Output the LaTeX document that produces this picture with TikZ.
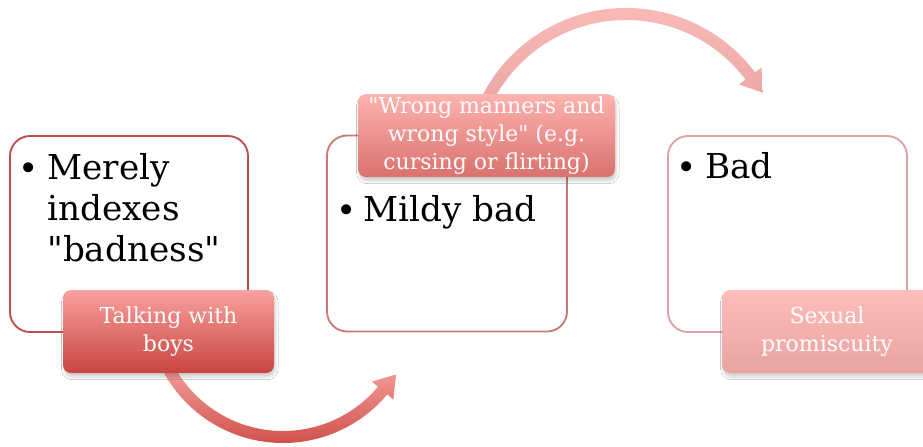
\documentclass[tikz,border=0pt]{standalone}
\usepackage{fontspec}
\setmainfont{DejaVu Serif}[Ligatures=TeXOff]
\usetikzlibrary{calc,shadows.blur}
\definecolor{bstrokeA}{HTML}{BB4F4C}
\definecolor{bstrokeB}{HTML}{C97A77}
\definecolor{bstrokeC}{HTML}{DDA3A2}
\definecolor{labAtop}{HTML}{F9A19D}
\definecolor{labAbot}{HTML}{C84540}
\definecolor{labBtop}{HTML}{FDB3AF}
\definecolor{labBbot}{HTML}{DA716D}
\definecolor{labCtop}{HTML}{FDBDBA}
\definecolor{labCbot}{HTML}{E9A3A1}
\definecolor{arrAtop}{HTML}{F8A6A2}
\definecolor{arrAbot}{HTML}{CF4E49}
\definecolor{arrBtop}{HTML}{FCBEBB}
\definecolor{arrBbot}{HTML}{EBA6A4}
\tikzset{
  bigbox/.style={draw, fill=white, line width=1.4pt, rounded corners=15pt,
    minimum height=147pt, inner sep=0pt},
  labbox/.style={rounded corners=6pt, minimum height=62.25pt, inner sep=0pt,
    text=white, align=center, font=\fontsize{16.5pt}{21pt}\selectfont,
    blur shadow={shadow blur steps=8, shadow xshift=1pt, shadow yshift=-3pt, shadow opacity=18, shadow blur radius=2pt}},
  boxtext/.style={anchor=north west, inner sep=0pt, align=left,
    font=\fontsize{25.7pt}{30.75pt}\selectfont},
  bul/.style={anchor=base, inner sep=0pt, font=\fontsize{25.7pt}{30.75pt}\selectfont}
}
\begin{document}
\begin{tikzpicture}[x=0.75pt,y=0.75pt]
\useasboundingbox (0,0) rectangle (923,-446);
\fill[white] (0,0) rectangle (923,-446);

% boxes
\node[bigbox, draw=bstrokeA, minimum width=178.5pt] (box1) at (129,-234) {};
\node[bigbox, draw=bstrokeB, minimum width=180pt] (box2) at (447,-233.5) {};
\node[bigbox, draw=bstrokeC, minimum width=179.25pt] (box3) at (787.5,-234) {};

% box texts
\node[bul] (b1) at (29,-180) {•};
\node[boxtext] (t1) at (47,-153) {Merely\\indexes\\"badness"};
\node[bul] (b2) at (347,-222) {•};
\node[boxtext] (t2) at (363,-195) {Mildy bad};
\node[bul] (b3) at (687,-179) {•};
\node[boxtext] (t3) at (705,-152) {Bad};

% arrow centres
\coordinate (c1) at (283,-307);
\coordinate (c2) at (626,-169.6);

% bottom arrow
\shade[top color=arrAtop, bottom color=arrAbot]
  ($(c1)+(205:136)$) arc[start angle=205, end angle=320, radius=102pt]
  -- ($(c1)+(320:144)$) -- ($(c1)+(320:130)+(50:21)$) -- ($(c1)+(320:116)$)
  -- ($(c1)+(320:124)$) arc[start angle=320, end angle=205, radius=93pt] -- cycle;

% top arrow
\shade[top color=arrBtop, bottom color=arrBbot]
  ($(c2)+(155:161.6)$) arc[start angle=155, end angle=37, radius=121.2pt]
  -- ($(c2)+(37:169.6)$) -- ($(c2)+(37:155.6)+(-53:21)$) -- ($(c2)+(37:141.6)$)
  -- ($(c2)+(37:149.6)$) arc[start angle=37, end angle=155, radius=112.2pt] -- cycle;

% labels
\node[labbox, top color=labAtop, bottom color=labAbot, minimum width=158.25pt] (lab1) at (168.5,-331.5) {Talking with\\boys};
\node[labbox, top color=labBtop, bottom color=labBbot, minimum width=192.75pt] (lab2) at (486.5,-135.5) {"Wrong manners and\\wrong style" (e.g.\\cursing or flirting)};
\node[labbox, top color=labCtop, bottom color=labCbot, minimum width=157.5pt] (lab3) at (827,-331.5) {Sexual\\promiscuity};
\end{tikzpicture}
\end{document}
